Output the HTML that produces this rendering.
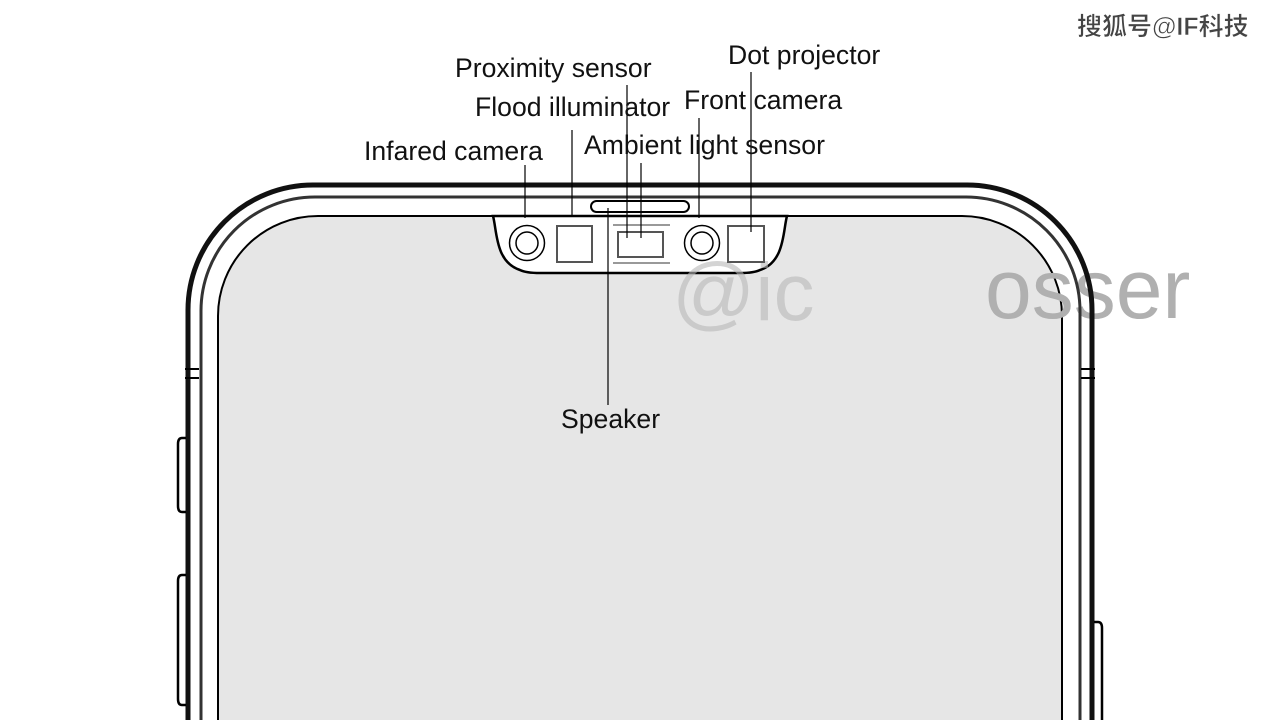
<!DOCTYPE html>
<html><head><meta charset="utf-8"><style>
html,body{margin:0;padding:0;background:#fff;}
svg{display:block;}
text{font-family:"Liberation Sans","Noto Sans CJK SC",sans-serif;}
</style></head><body>
<svg width="1280" height="720" viewBox="0 0 1280 720" xmlns="http://www.w3.org/2000/svg">
<rect width="1280" height="720" fill="#fff"/>
<path d="M218,722 V316 A100,100 0 0 1 318,216 H962 A100,100 0 0 1 1062,316 V722 Z" fill="#e6e6e6" stroke="#000" stroke-width="2"/>
<path d="M493,216 C497,230 495,262 520,270 Q526,273 540,273 H740 Q754,273 760,270 C785,262 783,230 787,216 Z" fill="#fff" stroke="#000" stroke-width="2.5"/>
<text x="672" y="320" font-size="82" fill="#b8b8b8" opacity="0.6">@ic</text>
<text x="985" y="318" font-size="84" fill="#b0b0b0">osser</text>
<path d="M188,722 V310 A125,125 0 0 1 313,185 H967 A125,125 0 0 1 1092,310 V722" fill="none" stroke="#111" stroke-width="5"/>
<path d="M201,722 V312 A114,114 0 0 1 315,197 H965 A114,114 0 0 1 1080,312 V722" fill="none" stroke="#333" stroke-width="3"/>
<path d="M186,438 H182 Q178,438 178,444 V506 Q178,512 182,512 H186" fill="none" stroke="#000" stroke-width="2.5"/>
<path d="M186,575 H182 Q178,575 178,581 V699 Q178,705 182,705 H186" fill="none" stroke="#000" stroke-width="2.5"/>
<path d="M1094,622 H1098 Q1102,622 1102,628 V722" fill="none" stroke="#000" stroke-width="2.5"/>
<line x1="185" y1="369" x2="199" y2="369" stroke="#000" stroke-width="2"/>
<line x1="185" y1="378" x2="199" y2="378" stroke="#000" stroke-width="2"/>
<line x1="1081" y1="369" x2="1095" y2="369" stroke="#000" stroke-width="2"/>
<line x1="1081" y1="378" x2="1095" y2="378" stroke="#000" stroke-width="2"/>
<rect x="591" y="201" width="98" height="11" rx="5.5" fill="#fff" stroke="#000" stroke-width="2"/>
<circle cx="527" cy="243" r="17.5" fill="none" stroke="#000" stroke-width="1.5"/>
<circle cx="527" cy="243" r="11" fill="none" stroke="#000" stroke-width="1.5"/>
<circle cx="702" cy="243" r="17.5" fill="none" stroke="#000" stroke-width="1.5"/>
<circle cx="702" cy="243" r="11" fill="none" stroke="#000" stroke-width="1.5"/>
<rect x="557" y="226" width="35" height="36" fill="none" stroke="#555" stroke-width="2"/>
<rect x="728" y="226" width="36" height="36" fill="none" stroke="#555" stroke-width="2"/>
<rect x="618" y="232" width="45" height="25" fill="none" stroke="#555" stroke-width="2"/>
<line x1="613" y1="225" x2="670" y2="225" stroke="#333" stroke-width="1"/>
<line x1="613" y1="263" x2="670" y2="263" stroke="#333" stroke-width="1"/>
<g stroke="#000" stroke-width="1.2">
<line x1="525" y1="165" x2="525" y2="218"/>
<line x1="572" y1="130" x2="572" y2="215"/>
<line x1="627" y1="85" x2="627" y2="238"/>
<line x1="641" y1="163" x2="641" y2="238"/>
<line x1="699" y1="118" x2="699" y2="218"/>
<line x1="751" y1="72" x2="751" y2="232"/>
<line x1="608" y1="208" x2="608" y2="405"/>
</g>
<g font-size="26.6" fill="#111">
<text x="455" y="77">Proximity sensor</text>
<text x="475" y="116">Flood illuminator</text>
<text x="364" y="160">Infared camera</text>
<text x="584" y="154">Ambient light sensor</text>
<text x="684" y="109">Front camera</text>
<text x="728" y="64">Dot projector</text>
<text x="561" y="428">Speaker</text>
</g>
<text x="1077" y="35" font-size="25" font-weight="bold" fill="#444" stroke="#fff" stroke-width="0.6">搜狐号@IF科技</text>
</svg>
</body></html>
